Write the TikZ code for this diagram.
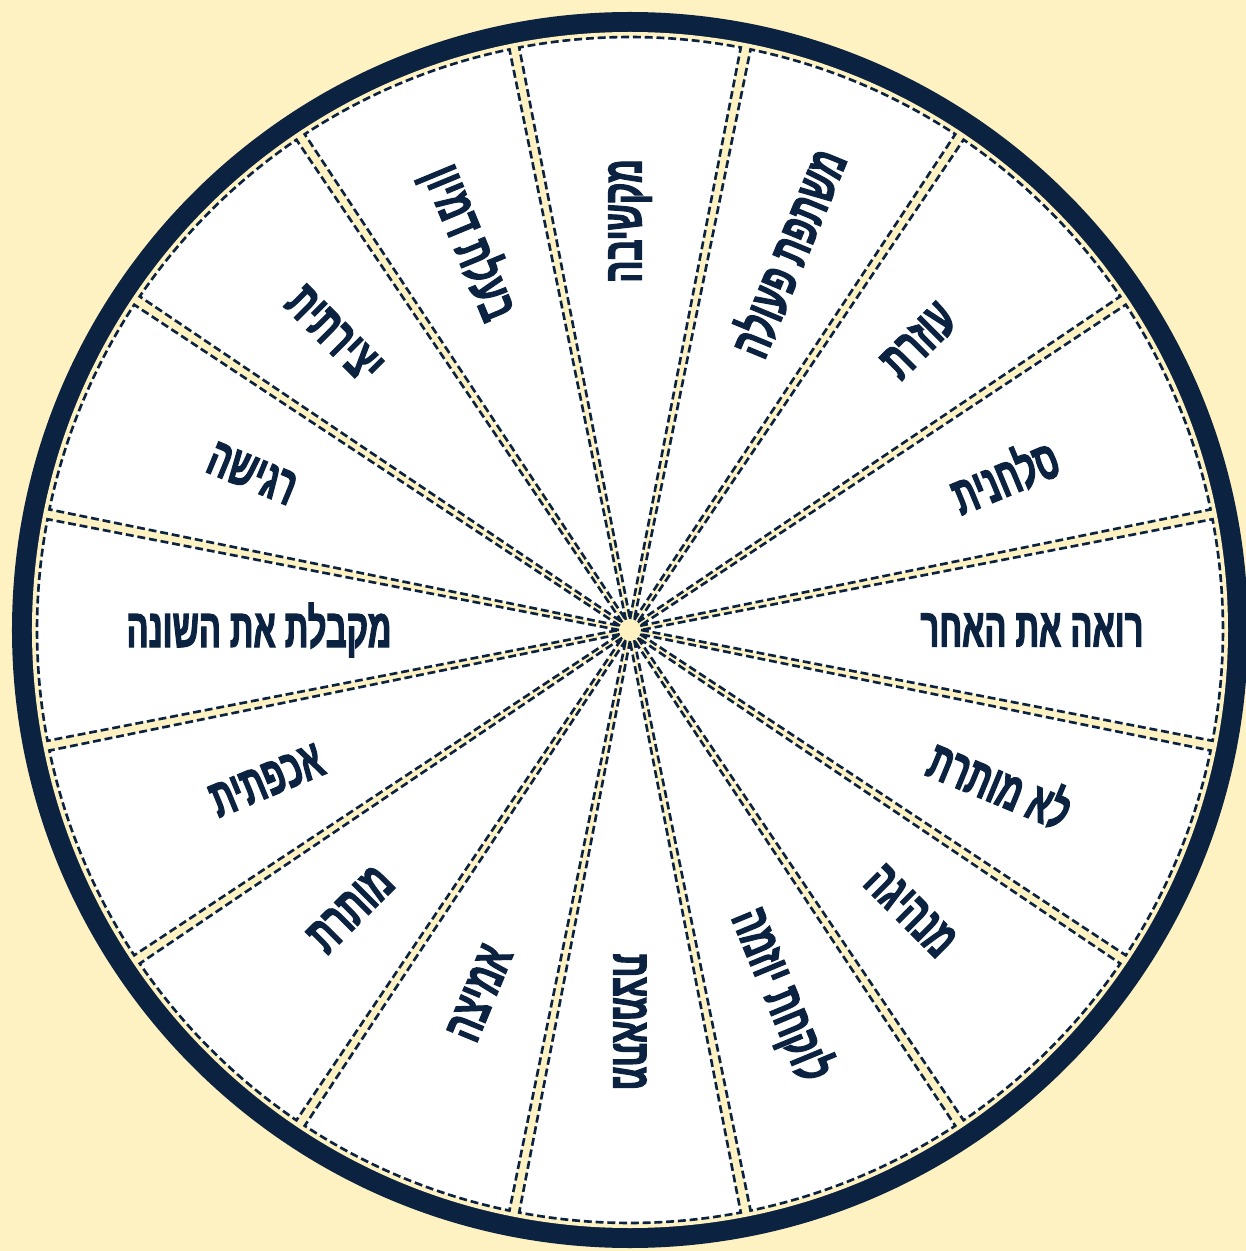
\documentclass[tikz,border=0pt]{standalone}
\usepackage{fontspec}
\usepackage{tikz}
\usetikzlibrary{calc}
\TeXXeTstate=1
\newfontfamily\hebfont[Script=Hebrew,FakeStretch=0.6,FakeBold=2]{Liberation Sans Bold}
\definecolor{wheelnavy}{RGB}{11,35,65}
\definecolor{wheelcream}{RGB}{255,242,194}
\tikzset{
  rim/.style   ={fill=wheelnavy},
  gap/.style   ={fill=wheelcream},
  wedge/.style ={fill=white, draw=wheelnavy, line width=1.5pt, dash pattern=on 4.5pt off 2.2pt, line join=miter},
  trait/.style ={font=\hebfont\fontsize{31}{31}\selectfont, text=wheelnavy, inner sep=0pt},
}
\begin{document}
\begin{tikzpicture}[x=0.02cm, y=0.02cm]
\fill[gap] (-630,-621) rectangle (616,630);
\useasboundingbox (-630,-621) rectangle (616,630);
\fill[rim] (0,0) circle[radius=618];
\fill[gap] (0,0) circle[radius=598];
\foreach \i in {0,...,15}{
  \pgfmathsetmacro\a{90-22.5*\i}
  \draw[wedge] (\a:11) -- (\a-10.77:593) arc[start angle=\a-10.77, end angle=\a+10.77, radius=593] -- cycle;
}
\foreach \ang/\rad/\txt [count=\n] in {
  90/409/מקשיבה,
  67.5/409/משתפת פעולה,
  45/409/עוזרת,
  22.5/405/סלחנית,
  0/402/רואה את האחר,
  -22.5/401/לא מותרת,
  -45/397/מנהיגה,
  -67.5/395/לוקחת יוזמה,
  -90/392/מתאמצת,
  -112.5/393/אמיצה,
  -135/395/מותרת,
  -157.5/393/אכפתית,
  180/371/מקבלת את השונה,
  157.5/409/רגישה,
  135/418/יצירתית,
  112.5/419/בעלת דמיון}{
  \pgfmathsetmacro\rot{((\ang>90)||(\ang<-90)) ? \ang-180 : \ang}
  \node[trait, rotate=\rot] (t\n) at (\ang:\rad) {\beginR\txt\endR};
}
\end{tikzpicture}
\end{document}
